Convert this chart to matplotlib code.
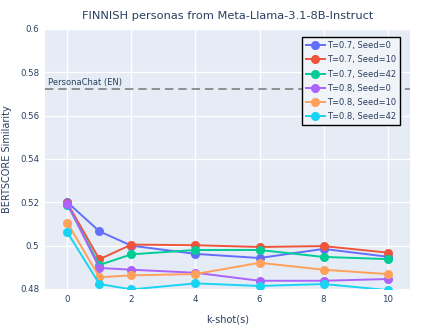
import matplotlib.pyplot as plt

k_shots = [0, 1, 2, 4, 6, 8, 10]
labels = ["T=0.7, Seed=0", "T=0.7, Seed=10", "T=0.7, Seed=42",
          "T=0.8, Seed=0", "T=0.8, Seed=10", "T=0.8, Seed=42"]
t07_s0 = [0.5200, 0.5066, 0.5000, 0.4962, 0.4943, 0.4985, 0.4949]
t07_s10 = [0.5196, 0.4937, 0.5005, 0.5002, 0.4994, 0.4998, 0.4968]
t07_s42 = [0.5189, 0.4911, 0.4960, 0.4980, 0.4980, 0.4948, 0.4938]
t08_s0 = [0.5193, 0.4897, 0.4889, 0.4875, 0.4838, 0.4838, 0.4846]
t08_s10 = [0.5105, 0.4854, 0.4863, 0.4869, 0.4921, 0.4889, 0.4869]
t08_s42 = [0.5061, 0.4823, 0.4798, 0.4826, 0.4814, 0.4823, 0.4795]
persona_chat_en = 0.5725

COLOURS = ["#636EFA", "#EF553B", "#00CC96", "#AB63FA", "#FFA15A", "#19D3F3"]
FONT = "#2a3f5f"


def main():
    fig = plt.figure(figsize=(4.39, 3.29), dpi=100)
    ax = fig.add_axes([45 / 439, 40 / 329, 365 / 439, 260 / 329])
    plot_data(ax)
    set_properties(ax)
    fig.savefig("out.png", dpi=100)


def plot_data(ax):
    series = [t07_s0, t07_s10, t07_s42, t08_s0, t08_s10, t08_s42]
    for vals, lab, col in zip(series, labels, COLOURS):
        ax.plot(k_shots, vals, color=col, marker="o", markersize=5.5,
                linewidth=1.4, label=lab, zorder=3)
    ax.axhline(persona_chat_en, color="#808080", linestyle=(0, (5, 3)),
               linewidth=1.2, zorder=2)
    ax.text(-0.62, persona_chat_en + 0.0008, "PersonaChat (EN)", fontsize=6,
            color=FONT, va="bottom", ha="left")


def set_properties(ax):
    ax.set_facecolor("#E5ECF6")
    ax.set_xlim(-0.7, 10.7)
    ax.set_ylim(0.48, 0.6)
    ax.set_xticks([0, 2, 4, 6, 8, 10])
    ax.set_yticks([0.48, 0.5, 0.52, 0.54, 0.56, 0.58, 0.6])
    ax.set_yticklabels(["0.48", "0.5", "0.52", "0.54", "0.56", "0.58", "0.6"])
    ax.grid(color="white", linewidth=1)
    ax.set_axisbelow(True)
    for s in ax.spines.values():
        s.set_visible(False)
    ax.tick_params(length=0, labelsize=6.2, labelcolor=FONT, pad=4)
    ax.set_xlabel("k-shot(s)", fontsize=7, color=FONT, labelpad=8)
    ax.set_ylabel("BERTSCORE Similarity", fontsize=7, color=FONT, labelpad=6)
    ax.set_title("FINNISH personas from Meta-Llama-3.1-8B-Instruct",
                 fontsize=8.2, color=FONT, pad=7)
    leg = ax.legend(loc="upper right", bbox_to_anchor=(0.985, 0.985),
                    fontsize=6, frameon=True, fancybox=False,
                    handlelength=2.2, borderpad=0.5, labelspacing=0.62,
                    handletextpad=0.3)
    leg.get_frame().set_edgecolor("black")
    leg.get_frame().set_linewidth(1)
    leg.get_frame().set_facecolor("#F0F3F8")
    leg.get_frame().set_alpha(1)
    for t in leg.get_texts():
        t.set_color(FONT)


if __name__ == "__main__":
    main()
